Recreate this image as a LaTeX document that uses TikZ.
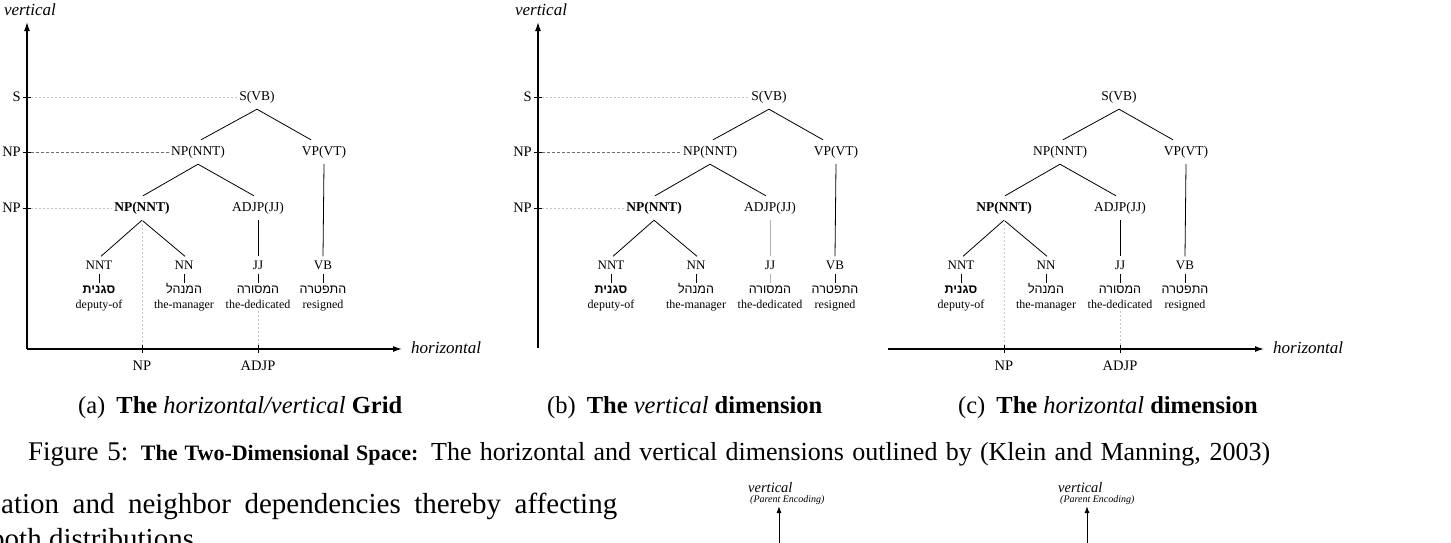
\documentclass[tikz,border=0pt]{standalone}
\usepackage{fontspec}
\setmainfont{Liberation Serif}
\newfontfamily\hebfont[Script=Hebrew]{Liberation Sans}
\TeXXeTstate=1
\usetikzlibrary{arrows.meta,calc}

\tikzset{
  catnode/.style={font=\fontsize{13.5}{14}\selectfont, inner xsep=2pt, inner ysep=6pt, text height=9.5pt, text depth=2.5pt},
  bcatnode/.style={catnode, font=\fontsize{13.5}{14}\selectfont\bfseries},
  posnode/.style={font=\fontsize{13}{14}\selectfont, inner xsep=1pt, inner ysep=4pt, text height=9pt, text depth=0pt},
  hebnode/.style={font=\fontsize{12.5}{13}\selectfont\hebfont, inner xsep=1pt, inner ysep=2pt, text height=8.5pt, text depth=0pt},
  bhebnode/.style={hebnode, font=\fontsize{12.5}{13}\selectfont\hebfont\bfseries},
  engnode/.style={font=\fontsize{12}{13}\selectfont, inner sep=0pt, text height=8.5pt, text depth=2.5pt},
  treeedge/.style={line width=0.8pt, black},
  axisarrow/.style={line width=1.3pt, black, -{Latex[length=9pt,width=6pt]}},
  smallarrow/.style={line width=1pt, black, -{Latex[length=7pt,width=5pt]}},
  tickmark/.style={line width=1pt, black},
  axlab/.style={font=\fontsize{14.5}{15}\selectfont, inner sep=0pt},
  axname/.style={font=\fontsize{17}{18}\selectfont\itshape, inner sep=0pt},
  guidelight/.style={gray!45, line width=0.6pt, dash pattern=on 2pt off 2pt},
  guidedark/.style={gray!85!black, line width=0.7pt, dash pattern=on 3pt off 2pt},
  capstyle/.style={font=\fontsize{24.5}{26}\selectfont, inner sep=0pt, anchor=base west},
  bodystyle/.style={font=\fontsize{29}{32}\selectfont, inner sep=0pt, anchor=base west},
}

\newcommand\mytree[3]{%
\begin{scope}[xshift=#2]
  \node[catnode]  (#1-s)    at (257,97)  {S(VB)};
  \node[catnode]  (#1-np)   at (198,152) {NP(NNT)};
  \node[catnode]  (#1-vp)   at (324,152) {VP(VT)};
  \node[bcatnode] (#1-bnp)  at (142,208) {NP(NNT)};
  \node[catnode]  (#1-adjp) at (258,208) {ADJP(JJ)};
  \node[posnode]  (#1-nnt)  at (99,265)  {NNT};
  \node[posnode]  (#1-nn)   at (184,265) {NN};
  \node[posnode]  (#1-jj)   at (258,265) {JJ};
  \node[posnode]  (#1-vb)   at (323,265) {VB};
  \node[bhebnode] (#1-h1)   at (99,289)  {\beginR סגנית\endR};
  \node[hebnode]  (#1-h2)   at (184,289) {\beginR המנהל\endR};
  \node[hebnode]  (#1-h3)   at (258,289) {\beginR המסורה\endR};
  \node[hebnode]  (#1-h4)   at (323,289) {\beginR התפטרה\endR};
  \node[engnode]  (#1-e1)   at (99,305)  {deputy-of};
  \node[engnode]  (#1-e2)   at (184,305) {the-manager};
  \node[engnode]  (#1-e3)   at (258,305) {the-dedicated};
  \node[engnode]  (#1-e4)   at (323,305) {resigned};
  \draw[treeedge] (#1-s.south) -- ($(#1-np.north)+(3,0)$);
  \draw[treeedge] (#1-s.south) -- ($(#1-vp.north)+(-13,0)$);
  \draw[treeedge] (#1-np.south) -- ($(#1-bnp.north)+(1,0)$);
  \draw[treeedge] (#1-np.south) -- ($(#1-adjp.north)+(-4,0)$);
  \draw[treeedge] (#1-bnp.south) -- ($(#1-nnt.north)+(2,0)$);
  \draw[treeedge] (#1-bnp.south) -- ($(#1-nn.north)+(1,0)$);
  \draw[treeedge,#3] (#1-adjp.south) -- (#1-jj.north);
  \draw[treeedge] (#1-vp.south) -- (#1-vb.north);
  \draw[treeedge] (#1-nnt.south) -- (#1-h1.north);
  \draw[treeedge] (#1-nn.south) -- (#1-h2.north);
  \draw[treeedge,#3] (#1-jj.south) -- (#1-h3.north);
  \draw[treeedge] (#1-vb.south) -- (#1-h4.north);
\end{scope}}

\begin{document}
\begin{tikzpicture}[x=1pt,y=-1pt]
\useasboundingbox (0,0) rectangle (1451,542);
\fill[white] (0,0) rectangle (1451,542);

% ---------------- panel (a)
\mytree{a}{0}{black}
\coordinate (a-org) at (27,349);
\coordinate (a-vtip) at (27,22);
\coordinate (a-htip) at (402,349);
\draw[axisarrow] (a-org) -- (a-vtip);
\draw[axisarrow] (a-org) -- (a-htip);
\node[axname] (a-vname) at (30,10) {vertical};
\node[axname, anchor=west] (a-hname) at (411,348) {horizontal};
\foreach \nm/\yy/\lab in {S/97/S, N/152/NP, M/208/NP}{
  \coordinate (a-t\nm) at (27,\yy);
  \draw[tickmark] ($(a-t\nm)+(-4,0)$) -- ($(a-t\nm)+(4,0)$);
  \node[axlab, anchor=east] (a-l\nm) at ($(a-t\nm)+(-6,0)$) {\lab};
}
\draw[guidelight] ($(a-tS)+(4,0)$) -- (a-s.west);
\draw[guidedark] ($(a-tN)+(4,0)$) -- (a-np.west);
\draw[guidelight] ($(a-tM)+(4,0)$) -- (a-bnp.west);
\coordinate (a-x1) at (a-bnp.south |- a-org);
\coordinate (a-x2) at (a-e3.south |- a-org);
\draw[guidelight] (a-bnp.south) -- (a-x1);
\draw[guidelight] (a-e3.south) -- (a-x2);
\draw[tickmark] ($(a-x1)+(0,-4)$) -- ($(a-x1)+(0,4)$);
\draw[tickmark] ($(a-x2)+(0,-4)$) -- ($(a-x2)+(0,4)$);
\node[axlab] (a-lx1) at ($(a-x1)+(0,17)$) {NP};
\node[axlab] (a-lx2) at ($(a-x2)+(0,17)$) {ADJP};

% ---------------- panel (b)
\mytree{b}{512}{gray!60}
\coordinate (b-org) at (538,348);
\coordinate (b-vtip) at (538,22);
\draw[axisarrow] (b-org) -- (b-vtip);
\node[axname] (b-vname) at (541,10) {vertical};
\foreach \nm/\yy/\lab in {S/97/S, N/152/NP, M/208/NP}{
  \coordinate (b-t\nm) at (538,\yy);
  \draw[tickmark] ($(b-t\nm)+(-4,0)$) -- ($(b-t\nm)+(4,0)$);
  \node[axlab, anchor=east] (b-l\nm) at ($(b-t\nm)+(-6,0)$) {\lab};
}
\draw[guidelight] ($(b-tS)+(4,0)$) -- (b-s.west);
\draw[guidedark] ($(b-tN)+(4,0)$) -- (b-np.west);
\draw[guidelight] ($(b-tM)+(4,0)$) -- (b-bnp.west);

% ---------------- panel (c)
\mytree{c}{862}{black}
\coordinate (c-org) at (888,349);
\coordinate (c-htip) at (1264,349);
\draw[axisarrow] (c-org) -- (c-htip);
\node[axname, anchor=west] (c-hname) at (1273,348) {horizontal};
\coordinate (c-x1) at (c-bnp.south |- c-org);
\coordinate (c-x2) at (c-e3.south |- c-org);
\draw[guidelight] (c-bnp.south) -- (c-x1);
\draw[guidelight] (c-e3.south) -- (c-x2);
\draw[tickmark] ($(c-x1)+(0,-4)$) -- ($(c-x1)+(0,4)$);
\draw[tickmark] ($(c-x2)+(0,-4)$) -- ($(c-x2)+(0,4)$);
\node[axlab] (c-lx1) at ($(c-x1)+(0,17)$) {NP};
\node[axlab] (c-lx2) at ($(c-x2)+(0,17)$) {ADJP};

% ---------------- captions
\node[capstyle] (capa) at (78,413) {(a)\hspace{0.45em}\textbf{The} \textit{horizontal/vertical} \textbf{Grid}};
\node[capstyle] (capb) at (547,413) {(b)\hspace{0.45em}\textbf{The} \textit{vertical} \textbf{dimension}};
\node[capstyle] (capc) at (958,413) {(c)\hspace{0.45em}\textbf{The} \textit{horizontal} \textbf{dimension}};
\node[inner sep=0pt, anchor=base west] (fig) at (28,460) {\makebox[1242pt][s]{\fontsize{27}{29}\selectfont Figure 5: {\fontsize{22}{24}\selectfont\bfseries The Two-Dimensional Space:} {\fontsize{26}{28}\selectfont The horizontal and vertical dimensions outlined by (Klein and Manning, 2003)}}};

% ---------------- body text
\node[bodystyle] (body1) at (1,513) {\makebox[616pt][s]{ation and neighbor dependencies thereby affecting}};
\node[bodystyle] (body2) at (-10,548) {both distributions};

% ---------------- next figure (top of it)
\node[font=\fontsize{14.5}{15}\selectfont\itshape, inner sep=0pt, anchor=west] (v1) at (748,488) {vertical};
\node[font=\fontsize{10}{11}\selectfont\itshape, inner sep=0pt, anchor=west] (p1) at (750,500.5) {(Parent Encoding)};
\coordinate (v1b) at (779,548);
\coordinate (v1t) at (779,506);
\draw[smallarrow] (v1b) -- (v1t);
\node[font=\fontsize{14.5}{15}\selectfont\itshape, inner sep=0pt, anchor=west] (v2) at (1058,488) {vertical};
\node[font=\fontsize{10}{11}\selectfont\itshape, inner sep=0pt, anchor=west] (p2) at (1060,500.5) {(Parent Encoding)};
\coordinate (v2b) at (1087,548);
\coordinate (v2t) at (1087,506);
\draw[smallarrow] (v2b) -- (v2t);
\end{tikzpicture}
\end{document}
